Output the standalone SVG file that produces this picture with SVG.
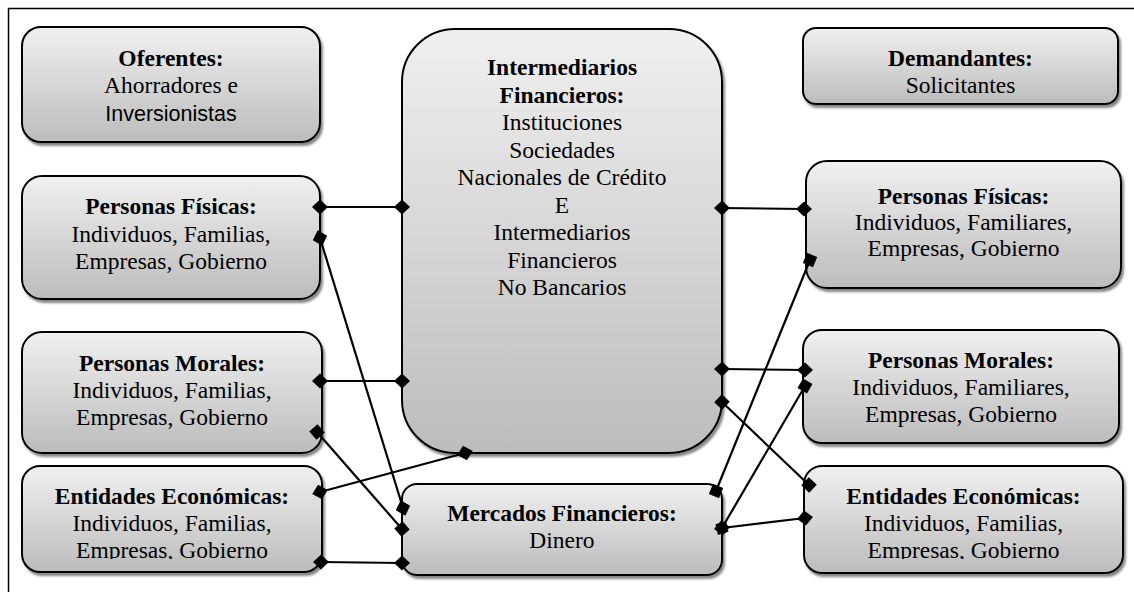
<svg xmlns="http://www.w3.org/2000/svg" width="1134" height="592" viewBox="0 0 1134 592">
  <style>
    .box { fill: url(#g); stroke: #000; stroke-width: 2; filter: url(#sh); }
    .t { font-family: "Liberation Serif", "Times New Roman", serif; font-size: 23.5px; fill: #000; text-anchor: middle; }
    .b { font-weight: bold; }
    .s { font-family: "Liberation Sans", Arial, sans-serif; font-size: 21.5px; }
    .c { fill: none; stroke: #000; stroke-width: 2.2; }
    .dd { marker-start: url(#dia); marker-end: url(#dia); }
    .ss { marker-start: url(#sq); marker-end: url(#sq); }
  </style>
  <defs>
    <linearGradient id="g" x1="0" y1="0" x2="0" y2="1">
      <stop offset="0" stop-color="#f0f0f0"/>
      <stop offset="1" stop-color="#bcbcbc"/>
    </linearGradient>
    <filter id="sh" x="-10%" y="-10%" width="120%" height="120%">
      <feDropShadow dx="2" dy="3" stdDeviation="1" flood-color="#555" flood-opacity="0.7"/>
    </filter>
    <marker id="dia" viewBox="-9 -9 18 18" markerWidth="18" markerHeight="18" refX="0" refY="0" orient="auto" markerUnits="userSpaceOnUse">
      <path d="M-8,0 L0,-7.5 L8,0 L0,7.5 Z" fill="#000"/>
    </marker>
    <marker id="sq" viewBox="-7 -7 14 14" markerWidth="14" markerHeight="14" refX="0" refY="0" orient="auto" markerUnits="userSpaceOnUse">
      <rect x="-5.5" y="-5.5" width="11" height="11" fill="#000"/>
    </marker>
    <clipPath id="clipEL"><rect x="22" y="466" width="300" height="93"/></clipPath>
    <clipPath id="clipER"><rect x="804" y="466" width="319" height="93"/></clipPath>
  </defs>

  <rect x="8.5" y="8.5" width="1200" height="700" fill="#fff" stroke="#000" stroke-width="1.5"/>

  <g id="oferentes">
    <rect class="box" x="22" y="27" width="298" height="115" rx="19"/>
    <text class="t b" x="171" y="66">Oferentes:</text>
    <text class="t" x="171" y="93">Ahorradores e</text>
    <text class="t s" x="171" y="120.5">Inversionistas</text>
  </g>

  <g id="demandantes">
    <rect class="box" x="803" y="28" width="315" height="76" rx="13"/>
    <text class="t b" x="960.5" y="66">Demandantes:</text>
    <text class="t" x="960.5" y="93">Solicitantes</text>
  </g>

  <g id="intermediarios">
    <rect class="box" x="402" y="29" width="320" height="424" rx="53"/>
    <text class="t b" x="562" y="75">Intermediarios</text>
    <text class="t b" x="562" y="102.5">Financieros:</text>
    <text class="t" x="562" y="130">Instituciones</text>
    <text class="t" x="562" y="157.5">Sociedades</text>
    <text class="t" x="562" y="185">Nacionales de Crédito</text>
    <text class="t" x="562" y="212.5">E</text>
    <text class="t" x="562" y="240">Intermediarios</text>
    <text class="t" x="562" y="267.5">Financieros</text>
    <text class="t" x="562" y="295">No Bancarios</text>
  </g>

  <g id="pf-left">
    <rect class="box" x="22" y="176" width="298" height="123" rx="20"/>
    <text class="t b" x="171" y="214">Personas Físicas:</text>
    <text class="t" x="171" y="241.5">Individuos, Familias,</text>
    <text class="t" x="171" y="269">Empresas, Gobierno</text>
  </g>

  <g id="pm-left">
    <rect class="box" x="22" y="332" width="300" height="121" rx="20"/>
    <text class="t b" x="172" y="371">Personas Morales:</text>
    <text class="t" x="172" y="398">Individuos, Familias,</text>
    <text class="t" x="172" y="425">Empresas, Gobierno</text>
  </g>

  <g id="ent-left">
    <rect class="box" x="22" y="466" width="300" height="106" rx="18"/>
    <text class="t b" x="172" y="504">Entidades Económicas:</text>
    <text class="t" x="172" y="531">Individuos, Familias,</text>
    <text class="t" x="172" y="558" clip-path="url(#clipEL)">Empresas, Gobierno</text>
  </g>

  <g id="mercados">
    <rect class="box" x="402" y="484" width="320" height="91" rx="15"/>
    <text class="t b" x="562" y="520.5">Mercados Financieros:</text>
    <text class="t" x="562" y="548">Dinero</text>
  </g>

  <g id="pf-right">
    <rect class="box" x="806" y="161" width="315" height="127" rx="21"/>
    <text class="t b" x="963.5" y="204">Personas Físicas:</text>
    <text class="t" x="963.5" y="230">Individuos, Familiares,</text>
    <text class="t" x="963.5" y="256">Empresas, Gobierno</text>
  </g>

  <g id="pm-right">
    <rect class="box" x="803" y="330" width="316" height="113" rx="19"/>
    <text class="t b" x="961" y="368">Personas Morales:</text>
    <text class="t" x="961" y="395">Individuos, Familiares,</text>
    <text class="t" x="961" y="422">Empresas, Gobierno</text>
  </g>

  <g id="ent-right">
    <rect class="box" x="804" y="466" width="319" height="107" rx="18"/>
    <text class="t b" x="963.5" y="504">Entidades Económicas:</text>
    <text class="t" x="963.5" y="531">Individuos, Familias,</text>
    <text class="t" x="963.5" y="558" clip-path="url(#clipER)">Empresas, Gobierno</text>
  </g>

  <g id="connectors">
    <path class="c dd" d="M320,207 L402,207"/>
    <path class="c dd" d="M320,238 L403,508"/>
    <path class="c dd" d="M320,381 L402,381"/>
    <path class="c ss" d="M317,432 L402,529"/>
    <path class="c dd" d="M320,492 L465,453"/>
    <path class="c dd" d="M321,562 L402,563"/>
    <path class="c dd" d="M722,208 L804,209"/>
    <path class="c dd" d="M722,369 L805,370"/>
    <path class="c ss" d="M722,402 L809,485"/>
    <path class="c ss" d="M716,491 L810,260"/>
    <path class="c" d="M722,528 L805,386" marker-start="url(#dia)" marker-end="url(#sq)"/>
    <path class="c dd" d="M722,528 L805,518"/>
  </g>
</svg>
